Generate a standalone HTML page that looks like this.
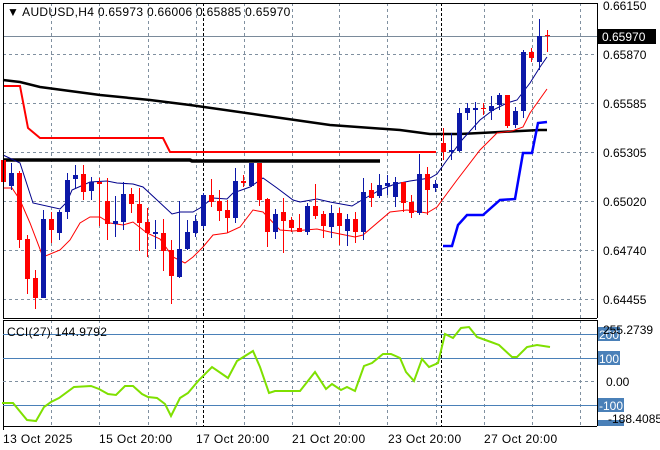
<!DOCTYPE html>
<html><head><meta charset="utf-8"><style>
html,body{margin:0;padding:0;background:#fff;}
svg{display:block;font-family:"Liberation Sans",sans-serif;}
</style></head><body>
<svg id="s" width="660" height="450" viewBox="0 0 660 450" xmlns="http://www.w3.org/2000/svg">
<rect width="660" height="450" fill="#fff"/>
<g id="grid" stroke="#8090a0" stroke-width="1" stroke-dasharray="3,3"></g>
<line x1="3" y1="36.5" x2="597" y2="36.5" stroke="#7a8a9a"/>
<g stroke="#000" stroke-dasharray="3,2"><line x1="203.5" y1="3" x2="203.5" y2="318"/><line x1="441.5" y1="3" x2="441.5" y2="318"/><line x1="203.5" y1="320" x2="203.5" y2="426"/><line x1="441.5" y1="320" x2="441.5" y2="426"/></g>
<polyline fill="none" stroke="#000" stroke-width="2.5" points="3,80 20,82 40,87 100,95 150,100 190,105 260,115 330,125 400,130 430,134 460,134 500,132 540,130 547,130"/>
<polyline fill="none" stroke="#f00" stroke-width="2" points="3,86 20,86 28,128 40,138 163,138 170,152 436,152"/>
<polyline fill="none" stroke="#000" stroke-width="3.5" points="3,160 190,160 192,161 380,161"/>
<polyline fill="none" stroke="#00008b" stroke-width="1" points="3,155 20,163 33,203 60,209 67,202 72,190 90,182 107,181 117,183 133,184 143,187 157,200 172,214 180,212 193,212 200,208 213,198 227,199 233,193 250,187 263,178 277,188 293,200 300,202 317,199 330,202 352,206 362,200 380,190 395,184 410,181 430,178 437,174 447,160 462,140 480,120 493,110 507,103 517,100 530,83 540,67 547,57"/>
<polyline fill="none" stroke="#f00" stroke-width="1" points="3,188 12,188 20,200 30,223 43,257 60,250 70,240 80,223 90,217 100,217 110,223 123,225 133,222 147,233 160,239 173,257 185,263 193,257 203,247 213,235 227,233 240,227 253,210 263,212 280,230 293,231 317,229 330,232 355,237 363,235 390,212 407,210 427,213 437,207 457,180 480,150 497,133 512,131 523,127 530,113 547,89"/>
<polyline fill="none" stroke="#0000ff" stroke-width="2.5" points="443,246 452,246 458,225 467,215 483,215 500,200 515,199 523,153 532,153 538,123 547,122"/>
<g id="candles"></g>
<g fill="none" stroke="#000" stroke-width="1"><line x1="3.5" y1="3" x2="3.5" y2="318"/><line x1="597.5" y1="3" x2="597.5" y2="318"/><line x1="3" y1="3.5" x2="597" y2="3.5"/><line x1="3" y1="318.5" x2="597" y2="318.5"/>
<line x1="3.5" y1="320" x2="3.5" y2="426"/><line x1="597.5" y1="320" x2="597.5" y2="426"/><line x1="3" y1="320.5" x2="597" y2="320.5"/><line x1="3" y1="426.5" x2="597" y2="426.5"/></g>
<g stroke="#4a80b8" stroke-width="1"><line x1="3" y1="334.5" x2="597" y2="334.5"/><line x1="3" y1="358.5" x2="597" y2="358.5"/><line x1="3" y1="405.5" x2="597" y2="405.5"/></g>
<line x1="3" y1="381.5" x2="597" y2="381.5" stroke="#8090a0" stroke-dasharray="3,3"/>
<polyline fill="none" stroke="#7fe000" stroke-width="2" points="2,403 13,403 27,420 36,421 44,407 51,402 59,398 74,387 91,386 99,389 108,394 116,395 125,386 133,386 142,394 148,397 157,398 165,404 171,416 180,398 188,393 199,380 212,367 228,378 237,361 253,351 260,367 269,393 275,391 300,391 315,372 326,389 332,384 341,390 347,387 355,391 364,366 372,363 383,354 391,354 400,358 406,372 414,381 422,359 429,367 438,363 445,334 453,338 461,328 469,327 477,337 491,342 499,345 512,357 517,357 527,347 537,345 550,347"/>
<g font-size="12" fill="#000">
<text x="7" y="16" letter-spacing="0.3">▼ AUDUSD,H4  0.65973 0.66006 0.65885 0.65970</text>
<text x="7" y="336" letter-spacing="0.3">CCI(27) 144.9792</text>
<text x="603" y="10">0.66150</text>
<text x="603" y="59">0.65870</text>
<text x="603" y="108">0.65585</text>
<text x="603" y="157">0.65305</text>
<text x="603" y="206">0.65020</text>
<text x="603" y="255">0.64740</text>
<text x="603" y="304">0.64455</text>
</g>
<rect x="598" y="29" width="58" height="15" fill="#000"/>
<text x="602" y="41" font-size="12" fill="#fff">0.65970</text>
<g font-size="12">
<rect x="598" y="327" width="22" height="14" fill="#4a80b8"/><rect x="598" y="351" width="22" height="14" fill="#4a80b8"/><rect x="598" y="398" width="26" height="14" fill="#4a80b8"/><rect x="598" y="420" width="26" height="6" fill="#4a80b8"/>
<text x="599" y="339" fill="#fff">200</text><text x="599" y="363" fill="#fff">100</text><text x="599" y="410" fill="#fff">-100</text>
<text x="603" y="334" fill="#000">255.2739</text>
<text x="606" y="386" fill="#000">0.00</text>
<text x="608" y="423" fill="#000">-188.4085</text>
<text x="3" y="443" letter-spacing="0.4">13 Oct 2025</text>
<text x="99" y="443" letter-spacing="0.4">15 Oct 20:00</text>
<text x="196" y="443" letter-spacing="0.4">17 Oct 20:00</text>
<text x="292" y="443" letter-spacing="0.4">21 Oct 20:00</text>
<text x="388" y="443" letter-spacing="0.4">23 Oct 20:00</text>
<text x="484" y="443" letter-spacing="0.4">27 Oct 20:00</text>
</g>
<g stroke="#000"><line x1="3.5" y1="426" x2="3.5" y2="430"/></g>
</svg>
<script>
var NS="http://www.w3.org/2000/svg";
var g=document.getElementById('grid');
var vx=[51,99,148,196,244,292,339,387,436,484,532,580];
vx.forEach(function(x){[[3,318],[320,426]].forEach(function(r){var l=document.createElementNS(NS,'line');l.setAttribute('x1',x+.5);l.setAttribute('x2',x+.5);l.setAttribute('y1',r[0]);l.setAttribute('y2',r[1]);g.appendChild(l);});});
[54,103,152,201,250,299].forEach(function(y){var l=document.createElementNS(NS,'line');l.setAttribute('x1',3);l.setAttribute('x2',597);l.setAttribute('y1',y+.5);l.setAttribute('y2',y+.5);g.appendChild(l);});
var C=[
['r',160,182,150,186],['b',173,186,163,190],['r',173,240,171,248],['r',239,279,235,294],['r',278,298,270,309],
['b',219,298,210,298],['r',219,230,212,243],['b',212,233,210,240],['b',180,212,173,219],['b',175,179,165,188],
['r',174,192,165,200],['b',182,191,177,200],['r',182,184,178,226],['r',201,224,178,240],['b',221,224,196,237],
['b',194,222,182,230],['r',194,204,188,213],['r',204,223,188,251],['r',222,233,208,257],['b',232,234,220,249],
['r',233,251,219,271],['r',250,276,240,304],['b',249,277,201,278],['b',232,249,220,250],['b',221,233,215,237],
['b',195,226,193,229],['r',195,202,179,207],['r',201,211,190,221],['r',210,218,200,233],['b',181,218,168,223],
['r',181,183,175,187],['b',163,186,163,187],['r',163,200,163,206],['r',199,232,198,247],['b',214,232,209,239],
['r',212,221,198,253],['r',220,228,217,232],['r',228,232,214,232],['b',206,232,203,235],['r',206,216,184,219],
['r',214,226,211,238],['b',213,227,205,238],['r',213,226,208,245],['b',219,231,214,246],['r',219,232,212,243],
['b',192,232,178,240],['r',190,198,183,207],['b',185,196,174,198],['b',183,186,175,195],['b',182,197,177,207],
['r',182,203,182,212],['r',202,213,195,218],['b',174,213,154,215],['r',174,190,167,215],['b',184,188,180,192],
['r',143,152,128,160],['b',150,152,133,160],['b',113,151,108,152],['b',108,113,103,120],['b',108,110,102,130],
['r',108,109,103,115],['b',106,111,96,120],['b',95,105,93,110],['r',95,126,95,128],['b',111,125,107,128],
['b',52,111,50,118],['r',52,58,48,62],['b',36,62,19,70],['r',35,36,30,52]
];
var cg=document.getElementById('candles');
C.forEach(function(c,i){var x=3.5+8*i;var col=c[0]=='r'?'#ff0000':'#0c18a8';
var w=document.createElementNS(NS,'line');w.setAttribute('x1',x);w.setAttribute('x2',x);w.setAttribute('y1',c[3]);w.setAttribute('y2',c[4]);w.setAttribute('stroke',col);cg.appendChild(w);
var r=document.createElementNS(NS,'rect');r.setAttribute('x',x-2.5);r.setAttribute('y',c[1]);r.setAttribute('width',5);r.setAttribute('height',Math.max(1,c[2]-c[1]));r.setAttribute('fill',col);cg.appendChild(r);});
</script>
</body></html>
